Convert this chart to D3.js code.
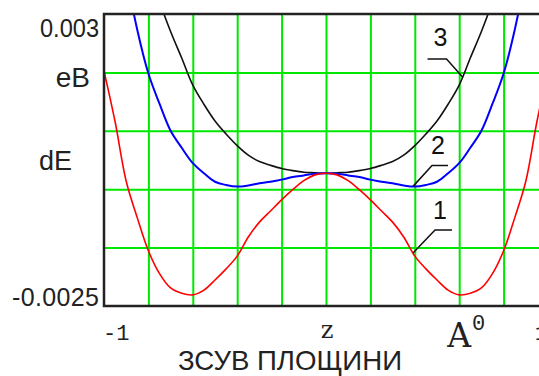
<!DOCTYPE html>
<html>
<head>
<meta charset="utf-8">
<script src="https://cdn.jsdelivr.net/npm/d3@7"></script>
<style>
  html, body { margin: 0; padding: 0; background: #fff; }
  svg { display: block; }
</style>
</head>
<body>
<svg id="chart" width="539" height="376"></svg>
<script>
// Plane displacement z (from -1 to 1) and energy change dE for three cases
const zValues = [-1, -0.95, -0.9, -0.85, -0.8, -0.75, -0.7, -0.65, -0.6, -0.55, -0.5,
  -0.45, -0.4, -0.35, -0.3, -0.25, -0.2, -0.15, -0.1, -0.05, 0,
  0.05, 0.1, 0.15, 0.2, 0.25, 0.3, 0.35, 0.4, 0.45, 0.5,
  0.55, 0.6, 0.65, 0.7, 0.75, 0.8, 0.85, 0.9, 0.95, 1];

// curve 1 (red)
const dE1 = [0.00193, 0.00097, -0.00015, -0.00084, -0.00146, -0.00189, -0.00216, -0.00226, -0.00229, -0.00220, -0.00201,
  -0.00180, -0.00156, -0.00120, -0.00092, -0.00071, -0.00050, -0.00031, -0.00014, -0.00003, 0,
  -0.00003, -0.00014, -0.00031, -0.00050, -0.00071, -0.00092, -0.00120, -0.00156, -0.00180, -0.00201,
  -0.00220, -0.00229, -0.00226, -0.00216, -0.00189, -0.00146, -0.00084, -0.00015, 0.00097, 0.00193];

// curve 2 (blue)
const dE2 = [0.00665, 0.00505, 0.00375, 0.00270, 0.00188, 0.00131, 0.00080, 0.00048, 0.00019, 0.00000, -0.00016,
  -0.00022, -0.00025, -0.00023, -0.00019, -0.00016, -0.00012, -0.00007, -0.00004, -0.00001, 0,
  -0.00001, -0.00004, -0.00007, -0.00012, -0.00016, -0.00019, -0.00023, -0.00025, -0.00022, -0.00016,
  0.00000, 0.00019, 0.00048, 0.00080, 0.00131, 0.00188, 0.00270, 0.00375, 0.00505, 0.00665];

// curve 3 (black)
const dE3 = [0.00730, 0.00630, 0.00540, 0.00460, 0.00385, 0.00323, 0.00267, 0.00217, 0.00166, 0.00130, 0.000985,
  0.00074, 0.00052, 0.00034, 0.00022, 0.00015, 0.00009, 0.00005, 0.00002, 0.00001, 0,
  0.00001, 0.00002, 0.00005, 0.00009, 0.00015, 0.00022, 0.00034, 0.00052, 0.00074, 0.000985,
  0.00130, 0.00166, 0.00217, 0.00267, 0.00323, 0.00385, 0.00460, 0.00540, 0.00630, 0.00730];

const zGrid = [-0.8, -0.6, -0.4, -0.2, 0, 0.2, 0.4, 0.6, 0.8];
const eGrid = [-0.0014, -0.0003, 0.0008, 0.0019];
const yLimitLabels = ["0.003", "-0.0025"];
const xLimitLabels = ["-1", "1"];

const svg = d3.select("#chart");
const plotLeft = 104, plotRight = 548, plotTop = 14, plotBottom = 306;

const x = d3.scaleLinear().domain([-1, 1]).range([plotLeft, plotRight]);
const y = d3.scaleLinear().domain([-0.0025, 0.003]).range([plotBottom, plotTop]);

svg.append("rect").attr("width", 539).attr("height", 376).attr("fill", "#fff");

// grid
const gridColor = "#00e800";
svg.append("g")
  .attr("transform", `translate(0,${plotBottom})`)
  .call(d3.axisBottom(x).tickValues(zGrid).tickSize(-(plotBottom - plotTop)).tickFormat(""))
  .call(g => g.select(".domain").remove())
  .call(g => g.selectAll("line").attr("stroke", gridColor).attr("stroke-width", 2));
svg.append("g")
  .attr("transform", `translate(${plotLeft},0)`)
  .call(d3.axisLeft(y).tickValues(eGrid).tickSize(-(plotRight - plotLeft)).tickFormat(""))
  .call(g => g.select(".domain").remove())
  .call(g => g.selectAll("line").attr("stroke", gridColor).attr("stroke-width", 2));

// curves
svg.append("clipPath").attr("id", "plotClip")
  .append("rect").attr("x", plotLeft).attr("y", plotTop)
  .attr("width", plotRight - plotLeft).attr("height", plotBottom - plotTop);

const line = d3.line()
  .x((d, i) => x(zValues[i]))
  .y(d => y(d))
  .curve(d3.curveCatmullRom.alpha(0.5));

const plot = svg.append("g").attr("clip-path", "url(#plotClip)");
plot.append("path").attr("d", line(dE3)).attr("fill", "none").attr("stroke", "#111").attr("stroke-width", 1.6);
plot.append("path").attr("d", line(dE2)).attr("fill", "none").attr("stroke", "#0000ff").attr("stroke-width", 2);
plot.append("path").attr("d", line(dE1)).attr("fill", "none").attr("stroke", "#ff0000").attr("stroke-width", 1.6);

// frame
svg.append("rect")
  .attr("x", plotLeft).attr("y", plotTop)
  .attr("width", plotRight - plotLeft).attr("height", plotBottom - plotTop)
  .attr("fill", "none").attr("stroke", "#222").attr("stroke-width", 2.5);

// value of a series at an arbitrary z (linear between samples)
function valueAt(series, z) {
  const i = Math.max(1, d3.bisectLeft(zValues, z));
  const z0 = zValues[i - 1], z1 = zValues[i];
  const t = (z - z0) / (z1 - z0);
  return series[i - 1] + t * (series[i] - series[i - 1]);
}

const sans = "'Liberation Sans', Arial, sans-serif";
const mono = "'Liberation Mono', 'Courier New', monospace";
const serif = "'DejaVu Serif', 'Liberation Serif', serif";

// curve number callouts
const callouts = [
  { name: "3", series: dE3, z: 0.615, kx: -16, ky: -18, hx: -19, tx: -22, ty: -31 },
  { name: "2", series: dE2, z: 0.392, kx: 19, ky: -21, hx: 16, tx: 25, ty: -32 },
  { name: "1", series: dE1, z: 0.392, kx: 22, ky: -23, hx: 17, tx: 27, ty: -34 }
];
callouts.forEach(c => {
  const ex = x(c.z), ey = y(valueAt(c.series, c.z));
  const kx = ex + c.kx, ky = ey + c.ky;
  svg.append("path")
    .attr("d", `M${ex},${ey}L${kx},${ky}L${kx + c.hx},${ky}`)
    .attr("fill", "none").attr("stroke", "#111").attr("stroke-width", 1.5);
  svg.append("text")
    .attr("x", ex + c.tx).attr("y", ey + c.ty)
    .attr("text-anchor", "middle")
    .attr("font-family", sans)
    .attr("font-size", 25).attr("fill", "#111")
    .text(c.name);
});

// y axis texts
svg.append("text").attr("x", 99).attr("y", 37).attr("text-anchor", "end")
  .attr("font-family", sans).attr("font-size", 25).attr("fill", "#222")
  .attr("textLength", 59).attr("lengthAdjust", "spacingAndGlyphs")
  .text(yLimitLabels[0]);
svg.append("text").attr("x", 99).attr("y", 306).attr("text-anchor", "end")
  .attr("font-family", sans).attr("font-size", 25).attr("fill", "#222")
  .attr("textLength", 87).attr("lengthAdjust", "spacing")
  .text(yLimitLabels[1]);
svg.append("text").attr("x", 90).attr("y", 87).attr("text-anchor", "end")
  .attr("font-family", sans).attr("font-size", 28).attr("fill", "#222")
  .text("eB");
svg.append("text").attr("x", 72).attr("y", 170).attr("text-anchor", "end")
  .attr("font-family", sans).attr("font-size", 27).attr("fill", "#222")
  .text("dE");

// x axis texts
svg.append("text").attr("x", plotLeft - 1).attr("y", 340).attr("text-anchor", "start")
  .attr("font-family", mono).attr("font-size", 22).attr("fill", "#222")
  .text(xLimitLabels[0]);
svg.append("text").attr("x", plotRight).attr("y", 340).attr("text-anchor", "end")
  .attr("font-family", mono).attr("font-size", 22).attr("fill", "#222")
  .text(xLimitLabels[1]);
svg.append("text").attr("x", x(0) + 1).attr("y", 338).attr("text-anchor", "middle")
  .attr("font-family", serif).attr("font-size", 24).attr("fill", "#222")
  .text("z");
svg.append("text").attr("x", x(0.6)).attr("y", 347).attr("text-anchor", "middle")
  .attr("font-family", serif).attr("font-size", 33).attr("font-weight", 300).attr("fill", "#222")
  .text("A");
svg.append("text").attr("x", 472).attr("y", 330).attr("text-anchor", "start")
  .attr("font-family", mono).attr("font-size", 22).attr("fill", "#222")
  .text("0");

// axis title
svg.append("text").attr("x", 178).attr("y", 370).attr("text-anchor", "start")
  .attr("font-family", sans).attr("font-size", 28).attr("fill", "#222")
  .attr("textLength", 224).attr("lengthAdjust", "spacingAndGlyphs")
  .text("ЗСУВ ПЛОЩИНИ");
</script>
</body>
</html>
